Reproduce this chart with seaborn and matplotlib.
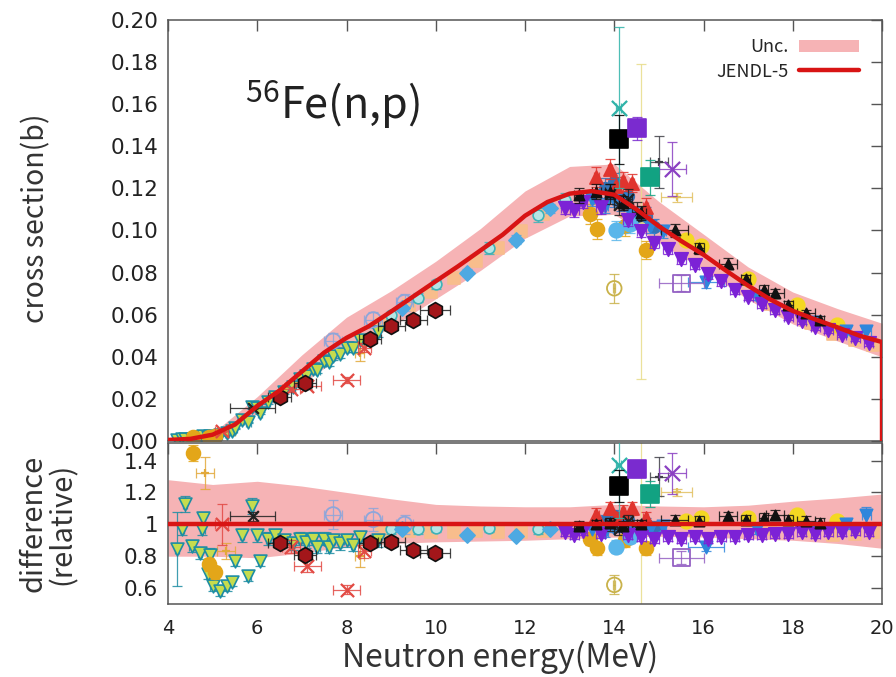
import numpy as np
import matplotlib
matplotlib.use("Agg")
import matplotlib.pyplot as plt
from matplotlib.patches import Patch
from matplotlib.lines import Line2D
import seaborn as sns

sns.set_theme(style="white")
plt.rcParams["font.family"] = ["DejaVu Sans"]
LABEL_FONT = ["Noto Sans CJK JP", "DejaVu Sans"]

# ---------------- JENDL-5 evaluation ----------------
jendl_energy = [4.0, 4.5, 5.0, 5.5, 6.0, 6.5, 7.0, 7.5, 8.0, 8.5, 9.0, 9.5, 10.0,
                10.5, 11.0, 11.5, 12.0, 12.5, 13.0, 13.5, 14.0, 14.5, 15.0, 15.5,
                16.0, 16.5, 17.0, 17.5, 18.0, 18.5, 19.0, 19.5, 20.0]
jendl_xs = [0.0005, 0.001, 0.003, 0.0078, 0.0166, 0.024, 0.033, 0.042, 0.049,
            0.0545, 0.0615, 0.0687, 0.0759, 0.083, 0.0905, 0.098, 0.107, 0.1135,
            0.1175, 0.1187, 0.117, 0.110, 0.102, 0.095, 0.0885, 0.081, 0.0738,
            0.0672, 0.0618, 0.0578, 0.054, 0.050, 0.047]

# relative uncertainty band of JENDL-5
band_energy = [4, 5, 6, 7, 8, 9, 10, 11, 12, 13, 14, 15, 16, 17, 18, 19, 20]
band_low = [0.80, 0.80, 0.79, 0.82, 0.86, 0.88, 0.89, 0.895, 0.90, 0.91, 0.92,
            0.925, 0.92, 0.91, 0.90, 0.88, 0.85]
band_high = [1.28, 1.25, 1.27, 1.24, 1.20, 1.16, 1.125, 1.115, 1.11, 1.11, 1.125,
             1.115, 1.11, 1.12, 1.145, 1.165, 1.19]

# ---------------- experimental data (ratio to JENDL-5) ----------------
# A: yellow-green triangles
a_energy = [4.2, 4.31, 4.38, 4.53, 4.72, 4.77, 4.79, 4.9, 4.94, 5.0, 5.17, 5.32,
            5.43, 5.5, 5.66, 5.8, 5.88, 6.0, 6.06, 6.24, 6.4, 6.6, 6.8, 6.96, 7.1,
            7.25, 7.35, 7.5, 7.6, 7.7, 7.85, 8.0, 8.15, 8.3, 8.7]
a_ratio = [0.845, 0.97, 1.125, 0.864, 0.82, 0.97, 1.04, 0.69, 0.81, 0.61, 0.58,
           0.61, 0.64, 0.77, 0.93, 0.675, 1.115, 0.93, 0.77, 0.91, 0.93, 0.90,
           0.88, 0.91, 0.89, 0.91, 0.86, 0.91, 0.86, 0.90, 0.88, 0.90, 0.87, 0.92,
           0.90]
a_dratio = [0.23, 0.04, 0.05, 0.04, 0.04, 0.04, 0.04, 0.03, 0.04, 0.03, 0.03,
            0.03, 0.03, 0.03, 0.04, 0.03, 0.05, 0.04, 0.03, 0.04, 0.04, 0.04,
            0.04, 0.04, 0.04, 0.04, 0.04, 0.04, 0.04, 0.04, 0.04, 0.04, 0.04, 0.04,
            0.04]
a_denergy = 0.05

# B: orange circles
b_energy = [4.55, 4.92, 5.05, 13.45, 13.62, 14.25, 14.7]
b_ratio = [1.45, 0.75, 0.70, 0.91, 0.85, 0.90, 0.85]
b_dratio = [0.05, 0.04, 0.04, 0.04, 0.04, 0.04, 0.04]
b_denergy = 0.05

# B2: orange error crosses
b2_energy = [4.83, 5.3, 8.3]
b2_ratio = [1.32, 0.83, 0.80]
b2_dratio = [0.10, 0.05, 0.07]
b2_denergy = [0.2, 0.2, 0.1]

# C: dark red hexagons
c_energy = [6.5, 7.07, 8.53, 9.0, 9.5, 9.98]
c_ratio = [0.88, 0.81, 0.88, 0.89, 0.84, 0.82]
c_dratio = 0.03
c_denergy = [0.25, 0.25, 0.25, 0.3, 0.3, 0.34]

# D: red asterisks
d_energy = [5.2, 6.75, 7.12, 8.0, 8.4]
d_ratio = [1.0, 0.86, 0.74, 0.59, 0.83]
d_dratio = [0.13, 0.04, 0.04, 0.03, 0.04]
d_denergy = [0.15, 0.2, 0.3, 0.3, 0.15]

# E: black crosses
e_energy = [5.9, 13.9, 14.1, 14.3, 14.5]
e_ratio = [1.05, 1.0, 0.97, 1.02, 0.99]
e_dratio = [0.03, 0.04, 0.04, 0.04, 0.04]
e_denergy = [0.5, 0.1, 0.1, 0.1, 0.1]

# F: light-blue open circles
f_energy = [7.7, 8.6, 9.3]
f_ratio = [1.06, 1.03, 1.0]
f_dratio = [0.09, 0.07, 0.06]
f_denergy = 0.2

# G: light-blue diamonds
g_energy = [9.25, 10.7, 11.8, 12.55]
g_ratio = [0.97, 0.93, 0.925, 0.97]
g_dratio = 0.02
g_denergy = 0.05

# H: pale teal circles
h_energy = [9.0, 9.6, 10.0, 11.2, 12.3, 12.9]
h_ratio = [0.97, 0.97, 0.98, 0.98, 0.97, 0.98]
h_dratio = 0.03
h_denergy = 0.05

# I: purple down triangles
i_energy = [12.9, 13.1, 13.3, 13.7, 14.3, 14.6, 14.9, 15.2, 15.5, 15.8, 16.1,
            16.4, 16.7, 17.0, 17.3, 17.6, 17.9, 18.2, 18.5, 18.8, 19.1, 19.4,
            19.7]
i_ratio = [0.95, 0.93, 0.96, 0.94, 0.93, 0.92, 0.91, 0.92, 0.91, 0.92, 0.91,
           0.92, 0.92, 0.93, 0.93, 0.94, 0.94, 0.95, 0.94, 0.95, 0.95, 0.96, 0.95]
i_dratio = 0.025
i_denergy = 0.1

# J: black up triangles
j_energy = [13.2, 13.6, 13.9, 14.2, 14.6, 15.35, 15.9, 16.55, 16.95, 17.35, 17.6,
            17.9, 18.3, 18.6]
j_ratio = [0.99, 1.0, 1.01, 0.99, 1.0, 1.03, 1.02, 1.05, 1.03, 1.04, 1.06, 1.03,
           1.02, 1.01]
j_dratio = 0.03
j_denergy = [0.1, 0.1, 0.1, 0.1, 0.1, 0.3, 0.1, 0.2, 0.1, 0.1, 0.2, 0.1, 0.2, 0.1]

# K: yellow circles
k_energy = [15.6, 15.95, 17.0, 18.1, 19.0]
k_ratio = [1.02, 1.04, 1.04, 1.06, 1.02]
k_dratio = 0.02
k_denergy = 0.05

# L: blue down triangles
l_energy = [13.5, 13.8, 14.0, 14.2, 14.4, 14.8, 15.1, 16.05, 17.2, 18.5, 19.2,
            19.65]
l_ratio = [0.97, 0.95, 0.98, 1.0, 0.96, 0.97, 0.99, 0.86, 0.97, 0.98, 1.0, 1.06]
l_dratio = [0.03, 0.03, 0.03, 0.03, 0.03, 0.03, 0.03, 0.03, 0.03, 0.03, 0.03, 0.05]
l_denergy = [0.05, 0.05, 0.05, 0.05, 0.05, 0.05, 0.05, 0.4, 0.05, 0.05, 0.05, 0.1]

# M: peach squares
m_energy = [8.8, 9.4, 9.9, 10.4, 10.9, 11.4, 11.9, 12.4, 17.5, 18.4, 18.9, 19.4,
            19.8]
m_ratio = [0.95, 0.96, 0.95, 0.95, 0.96, 0.95, 0.95, 0.96, 0.97, 0.96, 0.93,
           0.94, 0.95]
m_dratio = 0.02
m_denergy = 0.05

# N: red up triangles near 14 MeV
n_energy = [13.6, 13.9, 14.05, 14.2, 14.4, 14.7]
n_ratio = [1.06, 1.10, 1.04, 1.08, 1.10, 1.04]
n_dratio = 0.04
n_denergy = 0.05

# O: light-blue filled circles
o_energy = [14.05, 14.35]
o_ratio = [0.86, 0.92]
o_dratio = 0.04
o_denergy = 0.05

# P: steel-blue circles near 14 MeV
p_energy = [13.8, 14.0, 14.15, 14.3, 14.5, 14.7, 14.9]
p_ratio = [1.02, 1.05, 0.99, 1.03, 0.97, 1.00, 0.98]
p_dratio = 0.04
p_denergy = 0.05

# single measurements around 14 MeV
sq_black_energy, sq_black_ratio, sq_black_dratio = [14.1], [1.24], [0.10]
sq_purple_energy, sq_purple_ratio, sq_purple_dratio = [14.5], [1.35], [0.05]
sq_teal_energy, sq_teal_ratio, sq_teal_dratio = [14.8], [1.19], [0.08]
ast_teal_energy, ast_teal_ratio, ast_teal_dratio = [14.1], [1.37], [0.33]
x_purple_energy, x_purple_ratio, x_purple_dratio = [15.3], [1.32], [0.13]
oc_khaki_energy, oc_khaki_ratio, oc_khaki_dratio = [14.0], [0.62], [0.06]
big_khaki_energy, big_khaki_ratio, big_khaki_dratio = [14.6], [0.96], [0.69]
osq_purple_energy, osq_purple_ratio, osq_purple_dratio = [15.5], [0.79], [0.04]
plus_khaki_energy, plus_khaki_ratio, plus_khaki_dratio = [15.4], [1.20], [0.02]
plus_gray_energy, plus_gray_ratio, plus_gray_dratio = [15.0], [1.30], [0.12]

series = [
    dict(e=m_energy, r=m_ratio, dr=m_dratio, de=m_denergy, marker="s", face="#f8bd8c", edge="#f8bd8c", s=80, z=2.0),
    dict(e=a_energy, r=a_ratio, dr=a_dratio, de=a_denergy, marker="v", face="#c5dc4e", edge="#1d8da3", s=85, z=2.2),
    dict(e=b2_energy, r=b2_ratio, dr=b2_dratio, de=b2_denergy, marker="+", face="#e2a93b", edge="#e2a93b", s=40, z=2.1),
    dict(e=b_energy, r=b_ratio, dr=b_dratio, de=b_denergy, marker="o", face="#e3a619", edge="#e3a619", s=100, z=2.3),
    dict(e=f_energy, r=f_ratio, dr=f_dratio, de=f_denergy, marker="o", face="none", edge="#8ea6da", s=120, z=2.2),
    dict(e=d_energy, r=d_ratio, dr=d_dratio, de=d_denergy, marker="x", face="#e24a44", edge="#e24a44", s=90, z=2.4),
    dict(e=e_energy, r=e_ratio, dr=e_dratio, de=e_denergy, marker="x", face="#202020", edge="#202020", s=60, z=2.4),
    dict(e=c_energy, r=c_ratio, dr=c_dratio, de=c_denergy, marker="h", face="#a3161a", edge="#111111", s=130, z=2.5),
    dict(e=h_energy, r=h_ratio, dr=h_dratio, de=h_denergy, marker="o", face="#b6e4e4", edge="#3fb2b8", s=60, z=2.2),
    dict(e=g_energy, r=g_ratio, dr=g_dratio, de=g_denergy, marker="D", face="#4ea9e2", edge="#4ea9e2", s=60, z=2.3),
    dict(e=k_energy, r=k_ratio, dr=k_dratio, de=k_denergy, marker="o", face="#f4d822", edge="#f4d822", s=110, z=2.2),
    dict(e=p_energy, r=p_ratio, dr=p_dratio, de=p_denergy, marker="o", face="#3572b5", edge="#3572b5", s=70, z=2.25),
    dict(e=l_energy, r=l_ratio, dr=l_dratio, de=l_denergy, marker="v", face="#2f86dc", edge="#2f86dc", s=80, z=2.3),
    dict(e=o_energy, r=o_ratio, dr=o_dratio, de=o_denergy, marker="o", face="#5ab6ea", edge="#5ab6ea", s=110, z=2.4),
    dict(e=n_energy, r=n_ratio, dr=n_dratio, de=n_denergy, marker="^", face="#e0342e", edge="#e0342e", s=90, z=2.3),
    dict(e=i_energy, r=i_ratio, dr=i_dratio, de=i_denergy, marker="v", face="#7c22d6", edge="#7c22d6", s=95, z=2.5),
    dict(e=j_energy, r=j_ratio, dr=j_dratio, de=j_denergy, marker="^", face="#111111", edge="#111111", s=55, z=2.6),
    dict(e=big_khaki_energy, r=big_khaki_ratio, dr=big_khaki_dratio, de=0.02, marker="o", face="#e8dc8a", edge="#e8dc8a", s=20, z=2.0),
    dict(e=plus_khaki_energy, r=plus_khaki_ratio, dr=plus_khaki_dratio, de=0.35, marker="+", face="#e2c060", edge="#e2c060", s=40, z=2.1),
    dict(e=plus_gray_energy, r=plus_gray_ratio, dr=plus_gray_dratio, de=0.2, marker="+", face="#404048", edge="#404048", s=40, z=2.1),
    dict(e=oc_khaki_energy, r=oc_khaki_ratio, dr=oc_khaki_dratio, de=0.02, marker="o", face="none", edge="#c9b24a", s=110, z=2.6),
    dict(e=osq_purple_energy, r=osq_purple_ratio, dr=osq_purple_dratio, de=0.5, marker="s", face="none", edge="#9461c4", s=150, z=2.6),
    dict(e=ast_teal_energy, r=ast_teal_ratio, dr=ast_teal_dratio, de=0.05, marker="x", face="#2fb3a9", edge="#2fb3a9", s=120, z=2.7),
    dict(e=sq_black_energy, r=sq_black_ratio, dr=sq_black_dratio, de=0.05, marker="s", face="#000000", edge="#000000", s=170, z=2.8),
    dict(e=sq_purple_energy, r=sq_purple_ratio, dr=sq_purple_dratio, de=0.05, marker="s", face="#7a2bcf", edge="#7a2bcf", s=150, z=2.8),
    dict(e=sq_teal_energy, r=sq_teal_ratio, dr=sq_teal_dratio, de=0.05, marker="s", face="#12a282", edge="#12a282", s=170, z=2.8),
    dict(e=x_purple_energy, r=x_purple_ratio, dr=x_purple_dratio, de=0.3, marker="x", face="#8a3fc2", edge="#8a3fc2", s=120, z=2.8),
]

# ---------------- figure ----------------
fig = plt.figure(figsize=(8.96, 6.77), dpi=100)
ax1 = fig.add_axes([0.1875, 0.3486, 0.7969, 0.6219])
ax2 = fig.add_axes([0.1875, 0.1078, 0.7969, 0.2378])

band_color = "#f6b3b5"
red = "#d81414"

je = np.asarray(jendl_energy)
jx = np.asarray(jendl_xs)
be = np.asarray(band_energy)
bx = np.interp(be, je, jx)

ax1.fill_between(be, bx * np.asarray(band_low), bx * np.asarray(band_high),
                 color=band_color, lw=0, zorder=1)
ax2.fill_between(be, band_low, band_high, color=band_color, lw=0, zorder=1)


def draw(ax, x, y, yerr, xerr, st):
    ecol = "#222222" if st["marker"] == "h" else st["edge"]
    ax.errorbar(x, y, yerr=yerr, xerr=xerr, fmt="none", ecolor=ecol,
                elinewidth=0.9, capsize=3.5, capthick=0.9, alpha=0.85,
                zorder=st["z"] - 0.05)
    filled = st["marker"] not in ("x", "+")
    if not filled:
        sns.scatterplot(x=x, y=y, ax=ax, marker=st["marker"], s=st["s"],
                        color=st["edge"], linewidth=1.6, zorder=st["z"], legend=False)
    elif st["face"] == "none":
        sns.scatterplot(x=x, y=y, ax=ax, marker=st["marker"], s=st["s"],
                        color=st["edge"], facecolor="none", edgecolor=st["edge"],
                        linewidth=1.3, zorder=st["z"], legend=False)
    else:
        sns.scatterplot(x=x, y=y, ax=ax, marker=st["marker"], s=st["s"],
                        color=st["face"], edgecolor=st["edge"], linewidth=1.2,
                        zorder=st["z"], legend=False)


for st in series:
    e = np.asarray(st["e"], dtype=float)
    r = np.asarray(st["r"], dtype=float)
    dr = np.broadcast_to(np.asarray(st["dr"], dtype=float), r.shape)
    de = np.broadcast_to(np.asarray(st["de"], dtype=float), r.shape)
    ref = np.interp(e, je, jx)
    draw(ax1, e, r * ref, dr * ref, de, st)
    draw(ax2, e, r, dr, de, st)

# JENDL-5 curve (with the drop at the upper end of the evaluation)
curve_e = list(jendl_energy) + [jendl_energy[-1]]
curve_y = list(jendl_xs) + [0.0]
sns.lineplot(x=curve_e, y=curve_y, ax=ax1, color=red, lw=3.2, sort=False,
             estimator=None, zorder=5)
sns.lineplot(x=jendl_energy, y=jx / jx, ax=ax2, color=red, lw=3.2,
             estimator=None, zorder=5)

# axes styling
for ax in (ax1, ax2):
    ax.set_xlim(4, 20)
    ax.set_xticks(range(4, 21, 2))
    ax.tick_params(direction="in", top=True, right=True, length=8, width=1.0,
                   color="#555555", labelcolor="#222222")
    ax.tick_params(axis="y", labelsize=15.5, pad=7)
    ax.tick_params(axis="x", labelsize=14, pad=11)
    for sp in ax.spines.values():
        sp.set_color("#555555")
        sp.set_linewidth(1.1)

ax1.set_ylim(0, 0.2)
ax1.set_yticks(np.arange(0, 0.2001, 0.02))
ax1.set_yticklabels([f"{v:.2f}" for v in np.arange(0, 0.2001, 0.02)])
ax1.tick_params(labelbottom=False)

ax2.set_ylim(0.5, 1.51)
ax2.set_yticks([0.6, 0.8, 1.0, 1.2, 1.4])
ax2.set_yticklabels(["0.6", "0.8", "1", "1.2", "1.4"])

ax1.set_ylabel("cross section(b)", family=LABEL_FONT, fontsize=20.5, color="#333333")
ax1.yaxis.set_label_coords(-0.163, 0.53)
ax2.set_ylabel("difference\n(relative)", family=LABEL_FONT, fontsize=21,
               color="#333333", linespacing=1.0)
ax2.yaxis.set_label_coords(-0.126, 0.5)
ax2.set_xlabel("Neutron energy(MeV)", family=LABEL_FONT, fontsize=23, color="#333333",
               labelpad=2, x=0.465)

ax1.text(0.108, 0.80, r"$\mathregular{^{56}}$Fe(n,p)", transform=ax1.transAxes,
         family=LABEL_FONT, fontsize=31, color="#222222", va="center", ha="left")

handles = [Patch(facecolor=band_color, edgecolor="none", label="Unc."),
           Line2D([0], [0], color=red, lw=3.2, label="JENDL-5")]
ax1.legend(handles=handles, loc="upper right", bbox_to_anchor=(0.99, 0.995),
           frameon=False, markerfirst=False, prop={"family": LABEL_FONT, "size": 13},
           handlelength=3.3, handletextpad=0.6, labelspacing=0.35)

for ax in (ax1, ax2):
    ax.set_facecolor("white")
fig.savefig("out.png", dpi=100, facecolor="white")
